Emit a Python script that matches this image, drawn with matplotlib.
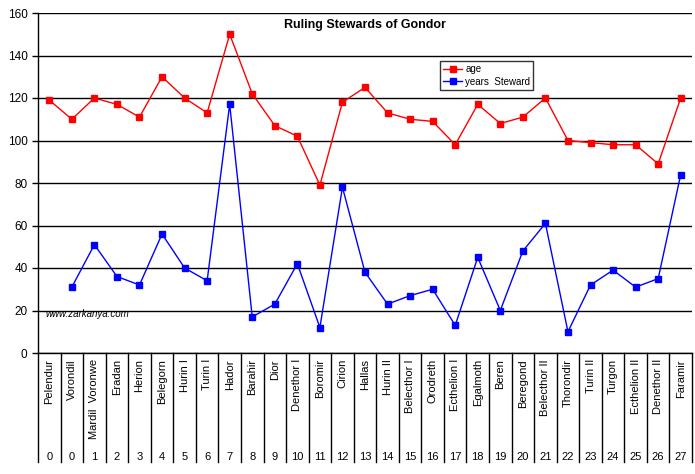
import matplotlib
matplotlib.use("Agg")
import matplotlib.pyplot as plt
import matplotlib.transforms as mtransforms
import numpy as np

plt.rcParams['font.family'] = ['Liberation Sans', 'DejaVu Sans']

stewards = ['Pelendur', 'Vorondil', 'Mardil  Voronwe', 'Eradan', 'Herion', 'Belegorn',
            'Hurin I', 'Turin I', 'Hador', 'Barahir', 'Dior', 'Denethor I', 'Boromir',
            'Cirion', 'Hallas', 'Hurin II', 'Belecthor I', 'Orodreth', 'Ecthelion I',
            'Egalmoth', 'Beren', 'Beregond', 'Belecthor II', 'Thorondir', 'Turin II',
            'Turgon', 'Ecthelion II', 'Denethor II', 'Faramir']
numbers = ['0', '0', '1', '2', '3', '4', '5', '6', '7', '8', '9', '10', '11', '12', '13',
           '14', '15', '16', '17', '18', '19', '20', '21', '22', '23', '24', '25', '26', '27']
age = [119, 110, 120, 117, 111, 130, 120, 113, 150, 122, 107, 102, 79, 118, 125,
       113, 110, 109, 98, 117, 108, 111, 120, 100, 99, 98, 98, 89, 120]
years_steward = [np.nan, 31, 51, 36, 32, 56, 40, 34, 117, 17, 23, 42, 12, 78, 38,
                 23, 27, 30, 13, 45, 20, 48, 61, 10, 32, 39, 31, 35, 84]

x = np.arange(len(stewards))

fig = plt.figure(figsize=(6.95, 4.74), dpi=100)
ax = fig.add_axes([38 / 695, 1 - 353 / 474, 654 / 695, 340 / 474])

ax.plot(x, age, color='#ff0000', lw=1, marker='s', markersize=5, label='age')
ax.plot(x, years_steward, color='#0000ff', lw=1, marker='s', markersize=5,
        label='years  Steward')

ax.set_xlim(-0.5, len(stewards) - 0.5)
ax.set_ylim(0, 160)
ax.set_yticks(range(0, 161, 20))
ax.tick_params(axis='y', labelsize=8.5, length=4, width=1, color='black')
ax.yaxis.grid(True, color='black', lw=1)
ax.set_axisbelow(True)
for side in ['top', 'right']:
    ax.spines[side].set_visible(False)
ax.spines['left'].set_linewidth(1)
ax.spines['bottom'].set_linewidth(1)

# multi-level category axis
ax.set_xticks([])
trans = mtransforms.blended_transform_factory(ax.transData, ax.transAxes)
for b in np.arange(-0.5, len(stewards), 1.0):
    ax.plot([b, b], [0, -0.322], color='black', lw=1, transform=trans, clip_on=False)
for i, (name, num) in enumerate(zip(stewards, numbers)):
    ax.text(i, -0.018, name, rotation=90, ha='center', va='top', fontsize=8,
            transform=trans)
    ax.text(i, -0.307, num, ha='center', va='center', fontsize=8, transform=trans)

ax.text(0.5, 0.965, 'Ruling Stewards of Gondor', transform=ax.transAxes,
        ha='center', va='center', fontsize=9, fontweight='bold')
ax.text(0.011, 0.115, 'www.zarkanya.com', transform=ax.transAxes, ha='left',
        va='center', fontsize=7, style='italic')

leg = ax.legend(loc='upper left', bbox_to_anchor=(440 / 695, 1 - 61 / 474),
                bbox_transform=fig.transFigure, fontsize=7, frameon=True,
                fancybox=False, edgecolor='black', borderpad=0.3, handlelength=2,
                handletextpad=0.3, labelspacing=0.3, borderaxespad=0)
leg.get_frame().set_linewidth(1)

fig.savefig('out.png', dpi=100)
